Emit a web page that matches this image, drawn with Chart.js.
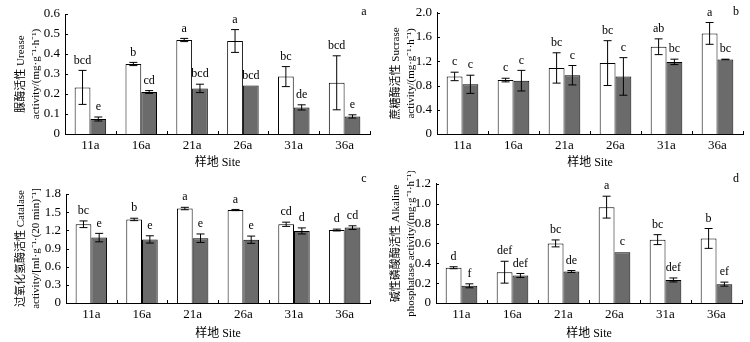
<!DOCTYPE html>
<html>
<head>
<meta charset="utf-8">
<script src="https://cdn.jsdelivr.net/npm/chart.js@4"></script>
<style>
  body { margin: 0; background: #fff; }
  .panel { position: absolute; width: 375px; height: 171px; }
</style>
</head>
<body>
<div class="panel" style="left:0;top:0"><canvas id="pa" width="375" height="171"></canvas></div>
<div class="panel" style="left:375px;top:0"><canvas id="pb" width="375" height="171"></canvas></div>
<div class="panel" style="left:0;top:171px"><canvas id="pc" width="375" height="171"></canvas></div>
<div class="panel" style="left:375px;top:171px"><canvas id="pd" width="375" height="171"></canvas></div>
<script>
// sites along x axis
let sites = ['11a', '16a', '21a', '26a', '31a', '36a'];

// a: urease
let ureaseWhite = [0.233, 0.350, 0.470, 0.465, 0.287, 0.256];
let ureaseWhiteErr = [0.085, 0.008, 0.008, 0.057, 0.050, 0.135];
let ureaseWhiteTags = ['bcd', 'b', 'a', 'a', 'bc', 'bcd'];
let ureaseGray = [0.075, 0.210, 0.228, 0.242, 0.133, 0.088];
let ureaseGrayErr = [0.010, 0.007, 0.021, 0, 0.013, 0.008];
let ureaseGrayTags = ['e', 'cd', 'bcd', 'bcd', 'de', 'e'];

// b: sucrase
let sucraseWhite = [0.95, 0.89, 1.09, 1.17, 1.44, 1.66];
let sucraseWhiteErr = [0.07, 0.03, 0.25, 0.37, 0.13, 0.18];
let sucraseWhiteTags = ['c', 'c', 'bc', 'bc', 'ab', 'a'];
let sucraseGray = [0.82, 0.88, 0.97, 0.95, 1.19, 1.23];
let sucraseGrayErr = [0.15, 0.17, 0.16, 0.31, 0.045, 0.005];
let sucraseGrayTags = ['c', 'c', 'c', 'c', 'bc', 'bc'];

// c: catalase
let catalaseWhite = [1.30, 1.38, 1.56, 1.535, 1.30, 1.205];
let catalaseWhiteErr = [0.055, 0.02, 0.02, 0.01, 0.035, 0.015];
let catalaseWhiteTags = ['bc', 'b', 'a', 'a', 'cd', 'd'];
let catalaseGray = [1.08, 1.05, 1.07, 1.045, 1.19, 1.245];
let catalaseGrayErr = [0.07, 0.06, 0.07, 0.06, 0.05, 0.03];
let catalaseGrayTags = ['e', 'e', 'e', 'e', 'd', 'cd'];

// d: alkaline phosphatase
let alpWhite = [0.355, 0.31, 0.60, 0.965, 0.638, 0.65];
let alpWhiteErr = [0.01, 0.11, 0.035, 0.11, 0.05, 0.10];
let alpWhiteTags = ['d', 'def', 'bc', 'a', 'bc', 'b'];
let alpGray = [0.173, 0.277, 0.317, 0.51, 0.232, 0.19];
let alpGrayErr = [0.02, 0.02, 0.01, 0, 0.02, 0.02];
let alpGrayTags = ['f', 'def', 'de', 'c', 'def', 'ef'];

let serif = '"Liberation Serif", "Times New Roman", "Noto Sans CJK SC", serif';

// error bars, significance letters, inward ticks, panel letter
let extras = {
    id: 'extras',
    afterDatasetsDraw(chart) {
        let ctx = chart.ctx;
        let y = chart.scales.y;
        let x = chart.scales.x;
        let area = chart.chartArea;
        let opt = chart.options.plugins.extras;
        ctx.save();
        ctx.strokeStyle = '#000';
        ctx.fillStyle = '#000';
        ctx.lineWidth = 1;
        chart.data.datasets.forEach((ds, di) => {
            let meta = chart.getDatasetMeta(di);
            meta.data.forEach((bar, i) => {
                let v = ds.data[i], e = ds.err[i];
                let top = y.getPixelForValue(v + e);
                let bot = y.getPixelForValue(v - e);
                if (e > 0) {
                    ctx.beginPath();
                    ctx.moveTo(bar.x, top); ctx.lineTo(bar.x, bot);
                    ctx.moveTo(bar.x - 4, top); ctx.lineTo(bar.x + 4, top);
                    ctx.moveTo(bar.x - 4, bot); ctx.lineTo(bar.x + 4, bot);
                    ctx.stroke();
                }
                ctx.font = '12px ' + serif;
                ctx.textAlign = 'center';
                ctx.textBaseline = 'bottom';
                ctx.fillText(ds.tags[i], bar.x, Math.min(top, bar.y) - 4);
            });
        });
        // inward tick marks
        ctx.beginPath();
        y.ticks.forEach(t => {
            let py = Math.round(y.getPixelForValue(t.value)) + 0.5;
            ctx.moveTo(area.left, py); ctx.lineTo(area.left + 3, py);
        });
        for (let i = 0; i <= sites.length; i++) {
            let px = Math.round(x.getPixelForValue(i - 0.5)) + 0.5;
            ctx.moveTo(px, area.bottom); ctx.lineTo(px, area.bottom - 3);
        }
        ctx.stroke();
        ctx.font = '12px ' + serif;
        ctx.textAlign = 'center';
        ctx.textBaseline = 'middle';
        ctx.fillText(opt.letter, opt.letterX, opt.letterY);
        ctx.restore();
    }
};

function makePanel(id, white, whiteErr, whiteTags, gray, grayErr, grayTags, yMax, yStep, yTitle, box) {
    return new Chart(document.getElementById(id), {
        type: 'bar',
        data: {
            labels: sites,
            datasets: [
                { data: white, err: whiteErr, tags: whiteTags, backgroundColor: '#ffffff',
                  borderColor: '#000', borderWidth: 1 },
                { data: gray, err: grayErr, tags: grayTags, backgroundColor: '#6b6b6b',
                  borderColor: '#000', borderWidth: 1 }
            ]
        },
        options: {
            responsive: false,
            animation: false,
            categoryPercentage: 0.62,
            barPercentage: 1.0,
            layout: { padding: { left: 0, top: box.top, right: box.right, bottom: 0 } },
            plugins: {
                legend: { display: false },
                tooltip: { enabled: false },
                extras: { letter: box.letter, letterX: box.letterX, letterY: box.letterY }
            },
            scales: {
                x: {
                    grid: { display: false, drawTicks: false },
                    border: { color: '#000', width: 1 },
                    ticks: { color: '#000', font: { family: serif, size: 13 }, padding: 4 },
                    title: { display: true, text: '样地 Site', color: '#000',
                             font: { family: serif, size: 12 }, padding: { top: 0, bottom: 1 } },
                    afterFit: s => { s.height = 171 - box.zero; }
                },
                y: {
                    min: 0, max: yMax,
                    grid: { display: false, drawTicks: false },
                    border: { color: '#000', width: 1 },
                    ticks: { stepSize: yStep, color: '#000', padding: 5, autoSkip: false,
                             font: { family: serif, size: 13 },
                             callback: v => v === 0 ? '0' : v.toFixed(1) },
                    title: { display: true, text: yTitle, color: '#000',
                             font: { family: serif, size: 11, lineHeight: 1.35 },
                             padding: { top: 14, bottom: 0 } },
                    afterFit: s => { s.width = box.left; }
                }
            }
        },
        plugins: [extras]
    });
}

makePanel('pa', ureaseWhite, ureaseWhiteErr, ureaseWhiteTags, ureaseGray, ureaseGrayErr, ureaseGrayTags,
    0.6, 0.1, ['脲酶活性 Urease', 'activity/(mg·g⁻¹·h⁻¹)'],
    { left: 65, top: 14, right: 5, zero: 134, letter: 'a', letterX: 364, letterY: 12 });
makePanel('pb', sucraseWhite, sucraseWhiteErr, sucraseWhiteTags, sucraseGray, sucraseGrayErr, sucraseGrayTags,
    2.0, 0.4, ['蔗糖酶活性 Sucrase', 'activity/(mg·g⁻¹·h⁻¹)'],
    { left: 62, top: 11, right: 7, zero: 134, letter: 'b', letterX: 361, letterY: 12 });
makePanel('pc', catalaseWhite, catalaseWhiteErr, catalaseWhiteTags, catalaseGray, catalaseGrayErr, catalaseGrayTags,
    1.8, 0.3, ['过氧化氢酶活性 Catalase', 'activity/[ml·g⁻¹·(20 min)⁻¹]'],
    { left: 66, top: 23, right: 5, zero: 132, letter: 'c', letterX: 364, letterY: 8 });
makePanel('pd', alpWhite, alpWhiteErr, alpWhiteTags, alpGray, alpGrayErr, alpGrayTags,
    1.2, 0.2, ['碱性磷酸酶活性 Alkaline', 'phosphatase activity/(mg·g⁻¹·h⁻¹)'],
    { left: 61, top: 5, right: 8, zero: 132, letter: 'd', letterX: 361, letterY: 8 });
</script>
</body>
</html>
